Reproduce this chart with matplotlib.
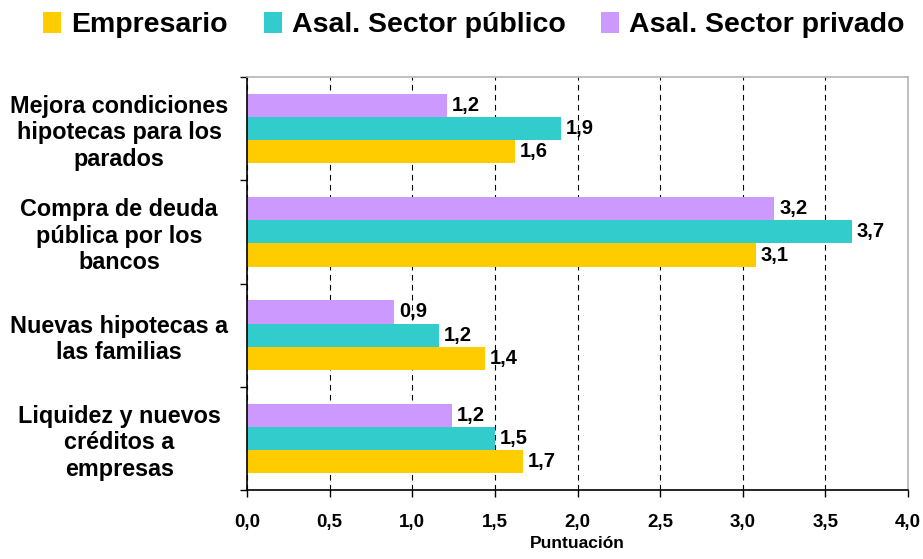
import numpy as np
import matplotlib.pyplot as plt
from matplotlib.patches import Patch

plt.rcParams['font.family'] = ['Liberation Sans', 'DejaVu Sans']
plt.rcParams['font.weight'] = 'bold'

# measures, listed top to bottom
categorias = ['Mejora condiciones\nhipotecas para los\nparados',
              'Compra de deuda\npública por los\nbancos',
              'Nuevas hipotecas a\nlas familias',
              'Liquidez y nuevos\ncréditos a\nempresas']
empresario = [1.62, 3.08, 1.44, 1.67]
sector_publico = [1.90, 3.66, 1.16, 1.50]
sector_privado = [1.21, 3.19, 0.89, 1.24]

series = ['Empresario', 'Asal. Sector público', 'Asal. Sector privado']
colores = ['#FFCC00', '#33CCCC', '#CC99FF']
x_ticks = [0.0, 0.5, 1.0, 1.5, 2.0, 2.5, 3.0, 3.5, 4.0]

fig = plt.figure(figsize=(9.23, 5.59), dpi=100)
ax = fig.add_axes([247 / 923, 69 / 559, 661 / 923, 413 / 559])

n = len(categorias)
pos = np.arange(n)[::-1].astype(float)   # first category on top
h = 0.224
# empresario lowest inside each group, sector privado highest
offsets = [-h, 0.0, h]
for vals, off, col in zip([empresario, sector_publico, sector_privado], offsets, colores):
    bars = ax.barh(pos + off, vals, height=h, color=col, edgecolor='none', zorder=2)
    for b, v in zip(bars, vals):
        ax.text(v + 0.03, b.get_y() + b.get_height() / 2, f'{v:.1f}'.replace('.', ','),
                va='center', ha='left', fontsize=14.5, fontweight='bold')

ax.set_xlim(0, 4.0)
ax.set_ylim(-0.5, n - 0.5)
ax.set_xticks(x_ticks)
ax.set_xticklabels([f'{t:.1f}'.replace('.', ',') for t in x_ticks], fontsize=13.5, fontweight='bold')
ax.tick_params(axis='x', length=5, width=1, direction='out', pad=12)

ax.set_yticks(pos)
ax.set_yticklabels(categorias, fontsize=16.8, fontweight='bold', ha='center',
                   linespacing=1.2)
ax.tick_params(axis='y', which='major', length=0, pad=92)
ax.set_yticks(np.arange(-0.5, n, 1.0), minor=True)
ax.tick_params(axis='y', which='minor', length=5, width=1, direction='out')

ax.set_xlabel('Puntuación', fontsize=12.5, fontweight='bold', labelpad=4)

ax.xaxis.grid(True, color='black', linestyle=(0, (5, 4)), linewidth=0.8)
ax.set_axisbelow(True)
for g in ax.get_xgridlines()[-1:]:
    g.set_visible(False)

ax.spines['left'].set_color('black')
ax.spines['bottom'].set_color('black')
ax.spines['top'].set_color('#b4b4b4')
ax.spines['right'].set_color('#b4b4b4')
for s in ax.spines.values():
    s.set_linewidth(1.2)

handles = [Patch(facecolor=c, edgecolor='none') for c in colores]
fig.legend(handles, series, loc='center', bbox_to_anchor=(474 / 923, 1 - 25 / 559), ncol=3,
           frameon=False, handlelength=0.63, handleheight=0.8,
           handletextpad=0.35, columnspacing=1.26, prop={'weight': 'bold', 'size': 20.5})

fig.savefig('out.png', dpi=100)
